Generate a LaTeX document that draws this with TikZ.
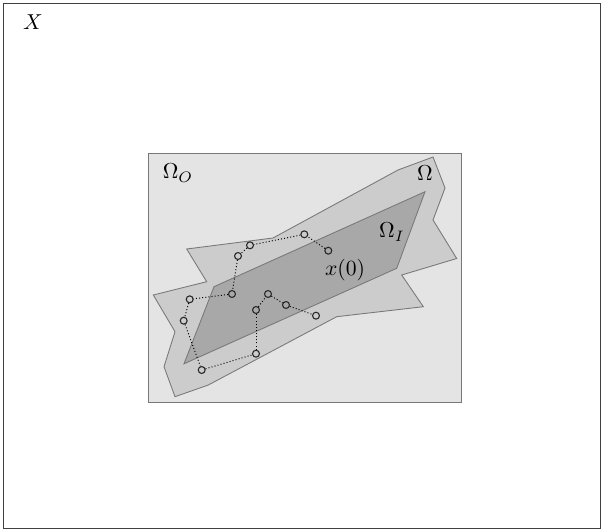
\documentclass[tikz,border=0pt]{standalone}
\usepackage{amsmath, amssymb}
\usepackage{tikz}
\usetikzlibrary{shapes, positioning}
\usepackage{xcolor}
\definecolor{outerfill}{RGB}{228, 228, 228}
\definecolor{omegafill}{RGB}{204, 204, 204}
\definecolor{innerfill}{RGB}{168, 168, 168}
\definecolor{edgegray}{RGB}{120, 120, 120}

\begin{document}
\begin{tikzpicture}[x=0.4626pt, y=-0.4626pt,
        region/.style={draw=edgegray, line width=0.4pt},
        traj/.style={draw=black!85, circle, inner sep=0pt, minimum size=3.2pt, line width=0.5pt},
        link/.style={densely dotted, line width=0.45pt}]
        \useasboundingbox (0,0) rectangle (601,529);
        \draw[black!75] (3,3) rectangle (600,528);
        \node (lX) at (33,22) {$X$};
        % outer set
        \draw[region, fill=outerfill] (148,153) rectangle (461,402);
        % Omega
        \draw[region, fill=omegafill] (186.7,249) -- (273,238) -- (398,170) -- (433,157) -- (445,188)
            -- (433,220) -- (456.7,258.5) -- (401.7,275) -- (423.3,306.7) -- (336.7,316.7)
            -- (208.3,385) -- (175,396.7) -- (164,366.7) -- (175,331.7) -- (153.3,295)
            -- (206.7,281.7) -- cycle;
        % inner set
        \draw[region, fill=innerfill] (214,286.7) -- (425,191.7) -- (396.7,268.3) -- (184,363.8) -- cycle;
        \node (lO) at (178,173) {$\Omega_O$};
        \node (lOm) at (425,173) {$\Omega$};
        \node (lI) at (392,232) {$\Omega_I$};
        \node (lx0) at (345,270) {$x(0)$};
        % trajectory
        \foreach \i/\p in {1/{328.3,250.7}, 2/{304.3,234.3}, 3/{250,245.3}, 4/{238,256}, 5/{232,294},
                6/{189.7,299.3}, 7/{183.7,320.7}, 8/{201.7,370}, 9/{256,353.7}, 10/{256,310},
                11/{268,294}, 12/{286,305}, 13/{316,315.7}} {
            \node[traj] (p\i) at (\p) {};
        }
        \foreach \i [evaluate=\i as \j using int(\i+1)] in {1,...,12} {
            \draw[link] (p\i) -- (p\j);
        }
    \end{tikzpicture}
\end{document}
